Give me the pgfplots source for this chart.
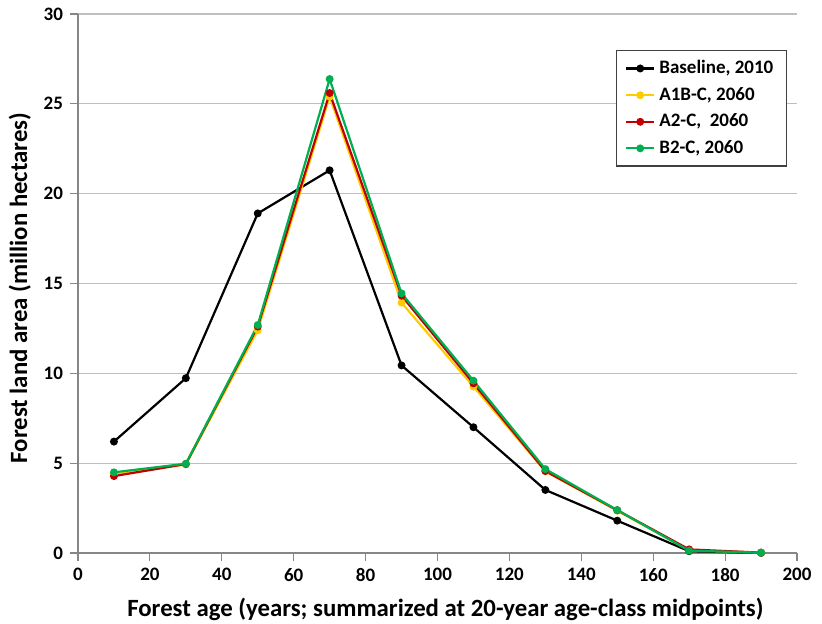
\documentclass[border=0pt]{standalone}
\usepackage{pgfplots}
\pgfplotsset{compat=1.18}
\usepackage{fontspec}
\setmainfont{Carlito}
\definecolor{gridc}{RGB}{191,191,191}
\definecolor{axisc}{RGB}{134,134,134}
\definecolor{cyel}{RGB}{255,204,0}
\definecolor{cred}{RGB}{192,0,0}
\definecolor{cgrn}{RGB}{0,176,80}
\begin{document}
\begin{tikzpicture}
\begin{axis}[
  scale only axis, width=359.5pt, height=269.5pt,
  xmin=0, xmax=200, ymin=0, ymax=30,
  xtick={0,20,...,200}, ytick={0,5,...,30},
  axis x line*=bottom, axis y line*=left,
  axis line style={axisc, line width=0.6pt},
  tick style={axisc, line width=0.6pt},
  tick align=outside, major tick length=4pt,
  ymajorgrids, grid style={gridc, line width=0.6pt},
  /pgf/number format/assume math mode=true,
  tick label style={font=\fontsize{9.5}{11}\selectfont\bfseries, text=black},
  xlabel={\textbf{Forest age (years; summarized at 20-year age-class midpoints)}},
  ylabel={\textbf{Forest land area (million hectares)}},
  label style={font=\fontsize{12.4}{14}\selectfont},
  xlabel style={at={(ticklabel cs:0.511)}, yshift=-1.5pt},
  ylabel style={at={(ticklabel cs:0.4917)}, yshift=-0.5pt},
  legend style={at={(0.986,0.933)}, anchor=north east, draw=black!75, line width=0.6pt,
    font=\fontsize{9.5}{11}\selectfont\bfseries, row sep=1.3pt, inner xsep=4.5pt, inner ysep=2.8pt,
    cells={anchor=west}},
  legend image code/.code={\draw[#1, mark repeat=2, mark phase=2] plot coordinates {(0pt,0pt) (7pt,0pt) (14pt,0pt)};},
  every axis plot/.append style={line width=1.1pt, mark=*, mark size=1.4pt},
  clip=false,
]
\addplot[black, mark options={black}] coordinates {(10,6.2) (30,9.73) (50,18.9) (70,21.3) (90,10.44) (110,7.0) (130,3.51) (150,1.8) (170,0.1) (190,0.0)};
\addlegendentry{Baseline, 2010}
\addplot[cyel, mark options={cyel}] coordinates {(10,4.38) (30,4.93) (50,12.4) (70,25.4) (90,13.93) (110,9.26) (130,4.55) (150,2.35) (170,0.15) (190,0.02)};
\addlegendentry{A1B-C, 2060}
\addplot[cred, mark options={cred}] coordinates {(10,4.28) (30,4.95) (50,12.6) (70,25.6) (90,14.32) (110,9.44) (130,4.56) (150,2.38) (170,0.2) (190,0.02)};
\addlegendentry{A2-C,\ \ 2060}
\addplot[cgrn, mark options={cgrn}] coordinates {(10,4.49) (30,4.97) (50,12.69) (70,26.38) (90,14.45) (110,9.59) (130,4.67) (150,2.39) (170,0.13) (190,0.02)};
\addlegendentry{B2-C, 2060}
\end{axis}
\pgfresetboundingbox
\path[use as bounding box] ([shift={(-39pt,-35.5pt)}]current axis.south west) rectangle ([shift={(12.5pt,7pt)}]current axis.north east);
\end{tikzpicture}
\end{document}
